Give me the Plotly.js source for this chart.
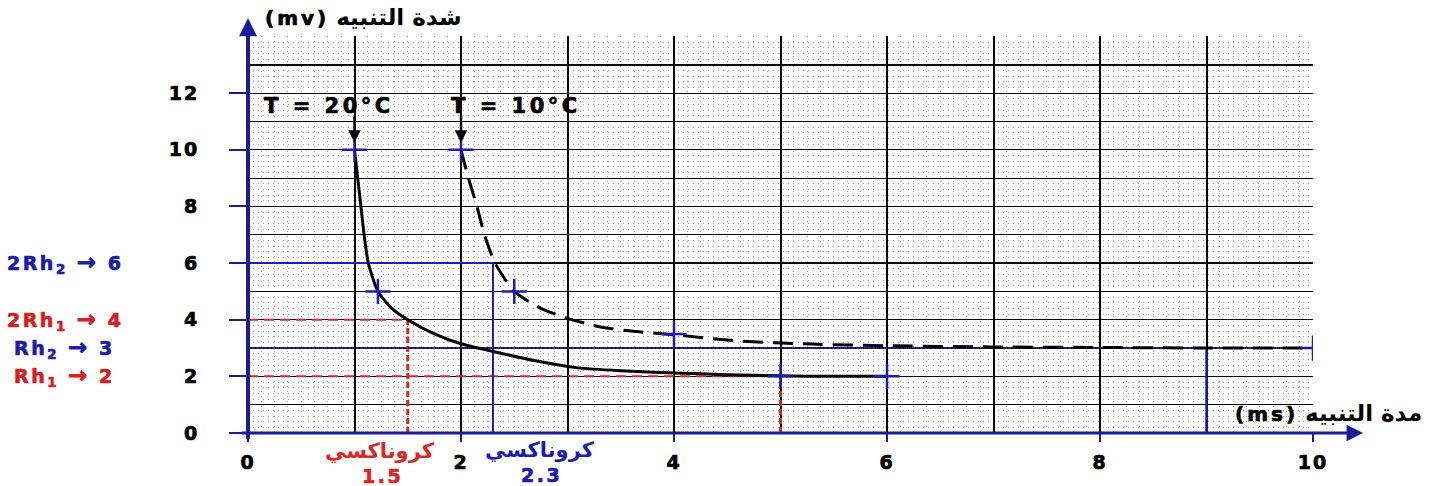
<!DOCTYPE html>
<html>
<head>
<meta charset="utf-8">
<script src="https://cdn.plot.ly/plotly-3.0.1.min.js"></script>
<style>html,body{margin:0;padding:0;background:#fff}#chart{width:1435px;height:486px}</style>
</head>
<body>
<div id="chart"></div>
<script>
// ---- data ----
const t20 = [1, 1.03, 1.06, 1.09, 1.13, 1.22, 1.35, 1.5, 1.75, 2, 2.3, 2.7, 3.1, 3.5, 4, 4.5, 5, 5.5, 6];
const i20 = [10, 9, 8, 7, 6, 5, 4.4, 4, 3.5, 3.15, 2.88, 2.55, 2.3, 2.2, 2.12, 2.06, 2.02, 2.0, 2.0];
const t10 = [2, 2.07, 2.15, 2.22, 2.32, 2.5, 2.75, 3, 3.3, 3.6, 4, 4.6, 5.3, 6, 7, 8, 9, 10];
const i10 = [10, 9, 8, 7, 6, 5, 4.4, 4.05, 3.75, 3.6, 3.47, 3.25, 3.14, 3.08, 3.04, 3.02, 3.0, 3.0];
const mark20T = [1, 1.22, 5, 6];
const mark20I = [10, 5, 2, 2];
const mark10T = [2, 2.5, 4, 10];
const mark10I = [10, 5, 3.5, 3];
const rh1 = 2, rh2 = 3, chron1 = 1.5, chron2 = 2.3, t5 = 5, t9 = 9, xMax = 10;
const xTicks = [0, 2, 4, 6, 8, 10];
const yTicks = [0, 2, 4, 6, 8, 10, 12];
const ARROW = '<span style="font-size:23px">→</span>';
const leftLabels = ['2Rh<sub>2</sub> ' + ARROW + ' 6', '2Rh<sub>1</sub> ' + ARROW + ' 4', 'Rh<sub>2</sub> ' + ARROW + ' 3', 'Rh<sub>1</sub> ' + ARROW + ' 2'];
const leftLabelVals = [6, 4, 3, 2];
const leftLabelX = [-0.1155, -0.1155, -0.123, -0.123];
const leftLabelColors = ['#1c1ca8', '#d42020', '#1c1ca8', '#d42020'];

const BLUE = '#1c1cb0', RED = '#e02424', AXB = '#1a1a9a';
const FONT = '"DejaVu Sans", Arial, sans-serif';
const hv = (t, px, col) => '<span style="letter-spacing:' + px + 'px;stroke:' + col + ';stroke-width:0.7px">' + t + '</span>';

const traces = [
  {x: [0, chron1, null, 0, t5], y: [2 * rh1, 2 * rh1, null, rh1, rh1], mode: 'lines',
   line: {color: RED, width: 2, dash: '10px,6px'}, hoverinfo: 'skip'},
  {x: [chron1, chron1, null, t5, t5], y: [0, 2 * rh1, null, 0, rh1], mode: 'lines',
   line: {color: RED, width: 3, dash: '6px,3px'}, hoverinfo: 'skip'},
  {x: [0, chron2, chron2], y: [2 * rh2, 2 * rh2, 0], mode: 'lines',
   line: {color: BLUE, width: 2}, hoverinfo: 'skip'},
  {x: [t9, t9], y: [0, rh2], mode: 'lines', line: {color: BLUE, width: 2.5}, hoverinfo: 'skip'},
  {x: [0, xMax], y: [rh2, rh2], mode: 'lines', line: {color: BLUE, width: 2, dash: '3px,1px'}, hoverinfo: 'skip'},
  {x: t20, y: i20, mode: 'lines', line: {color: '#000', width: 3, shape: 'spline', smoothing: 0.6}},
  {x: t10, y: i10, mode: 'lines', line: {color: '#000', width: 3, dash: '20px,10px', shape: 'spline', smoothing: 0.6}},
  {x: mark20T, y: mark20I, mode: 'markers', marker: {symbol: 'cross-thin', size: 18, line: {color: BLUE, width: 2.5}}},
  {x: mark10T, y: mark10I, mode: 'markers', marker: {symbol: 'cross-thin', size: 18, line: {color: BLUE, width: 2.5}}},
  {x: [0], y: [0], xaxis: 'x2', yaxis: 'y2', mode: 'markers', marker: {opacity: 0}, hoverinfo: 'skip'}
];

const annotations = [];
annotations.push({xref: 'x', yref: 'paper', x: 0, y: 1.045, ax: 0, ay: 422, axref: 'pixel', ayref: 'pixel',
  text: '', showarrow: true, arrowhead: 2, arrowsize: 0.9, arrowwidth: 4, arrowcolor: AXB, standoff: 0});
annotations.push({xref: 'paper', yref: 'y', x: 1.047, y: 0, ax: -1123, ay: 0,
  text: '', showarrow: true, arrowhead: 2, arrowsize: 1.1, arrowwidth: 3, arrowcolor: AXB, standoff: 0});
const tFont = {family: FONT, size: 21, weight: 'bold', color: '#000'};
annotations.push({x: 0.76, y: 11.56, yanchor: 'middle', text: hv('T = 20°C', 3.5, '#000'), showarrow: false, font: tFont});
annotations.push({x: 2.52, y: 11.56, yanchor: 'middle', text: hv('T = 10°C', 3.5, '#000'), showarrow: false, font: tFont});
annotations.push({x: mark20T[0], y: 10.25, ax: 0, ay: -28, text: '', showarrow: true, arrowhead: 2, arrowsize: 1, arrowwidth: 2.5, arrowcolor: '#000', standoff: 0});
annotations.push({x: mark10T[0], y: 10.25, ax: 0, ay: -28, text: '', showarrow: true, arrowhead: 2, arrowsize: 1, arrowwidth: 2.5, arrowcolor: '#000', standoff: 0});
leftLabels.forEach((t, i) => annotations.push({xref: 'paper', yref: 'y', x: leftLabelX[i], y: leftLabelVals[i], xanchor: 'right', yanchor: 'middle',
  text: hv(t, 2.5, leftLabelColors[i]), showarrow: false, font: {family: FONT, size: 19, weight: 'bold', color: leftLabelColors[i]}}));
annotations.push({xref: 'x', yref: 'paper', x: 1.24, y: -0.045, yanchor: 'middle', text: 'كروناكسي', showarrow: false, font: {family: FONT, size: 21, weight: 'bold', color: RED}});
annotations.push({xref: 'x', yref: 'paper', x: 1.26, y: -0.108, yanchor: 'middle', text: hv(String(chron1), 2.5, RED), showarrow: false, font: {family: FONT, size: 19, weight: 'bold', color: RED}});
annotations.push({xref: 'x', yref: 'paper', x: 2.74, y: -0.042, yanchor: 'middle', text: 'كروناكسي', showarrow: false, font: {family: FONT, size: 21, weight: 'bold', color: BLUE}});
annotations.push({xref: 'x', yref: 'paper', x: 2.76, y: -0.106, yanchor: 'middle', text: hv(String(chron2), 2.5, BLUE), showarrow: false, font: {family: FONT, size: 19, weight: 'bold', color: BLUE}});
annotations.push({xref: 'paper', yref: 'paper', x: 0.925, y: 0.05, xanchor: 'left', yanchor: 'middle',
  text: hv('(ms)', 3, '#000') + ' <span style="font-size:23px">مدة التنبيه</span>', showarrow: false,
  font: {family: FONT, size: 20, weight: 'bold', color: '#000'}});

const gridMajor = {showgrid: true, gridcolor: '#000', zeroline: false, showline: false, ticks: '', showticklabels: false, fixedrange: true};
const tickFont = {family: FONT, size: 19, weight: 'bold', color: '#000'};

const layout = {
  width: 1435, height: 486,
  margin: {l: 248, r: 122, t: 36, b: 53},
  paper_bgcolor: '#fff', plot_bgcolor: '#fff',
  showlegend: false,
  title: {text: hv('(mv)', 3, '#000') + ' <span style="font-size:23px">شدة التنبيه</span>', xref: 'paper', x: 0.016, xanchor: 'left', yref: 'container', y: 0.963, yanchor: 'middle',
    font: {family: FONT, size: 20, weight: 'bold', color: '#000'}},
  xaxis: Object.assign({}, gridMajor, {range: [0, xMax], dtick: 1, tick0: 0, gridwidth: 2,
    minor: {dtick: 0.125, showgrid: true, gridcolor: '#a0a0a0', griddash: '1px,4px', gridwidth: 1}}),
  yaxis: Object.assign({}, gridMajor, {range: [0, 14.02], dtick: 1, tick0: 0, gridwidth: 1.3,
    minor: {dtick: 0.2, showgrid: true, gridcolor: '#a0a0a0', griddash: '1px,4px', gridwidth: 1}}),
  xaxis2: {overlaying: 'x', anchor: 'y2', side: 'bottom', range: [0, xMax], tickvals: xTicks,
    ticktext: xTicks.map(v => hv(String(v), 2, '#000')), showgrid: false, zeroline: false, showline: false,
    ticks: 'outside', ticklen: 8, tickwidth: 2, tickcolor: AXB, ticklabelstandoff: 4,
    tickfont: tickFont, fixedrange: true},
  yaxis2: {overlaying: 'y', anchor: 'x2', side: 'left', range: [0, 14.02], tickvals: yTicks,
    ticktext: yTicks.map(v => hv(String(v), 2, '#000')), showgrid: false, zeroline: false, showline: false,
    ticks: 'outside', ticklen: 18, tickwidth: 2, tickcolor: AXB, ticklabelstandoff: 26,
    tickfont: tickFont, fixedrange: true},
  annotations: annotations
};

Plotly.newPlot('chart', traces, layout, {staticPlot: true, displayModeBar: false});
</script>
</body>
</html>
